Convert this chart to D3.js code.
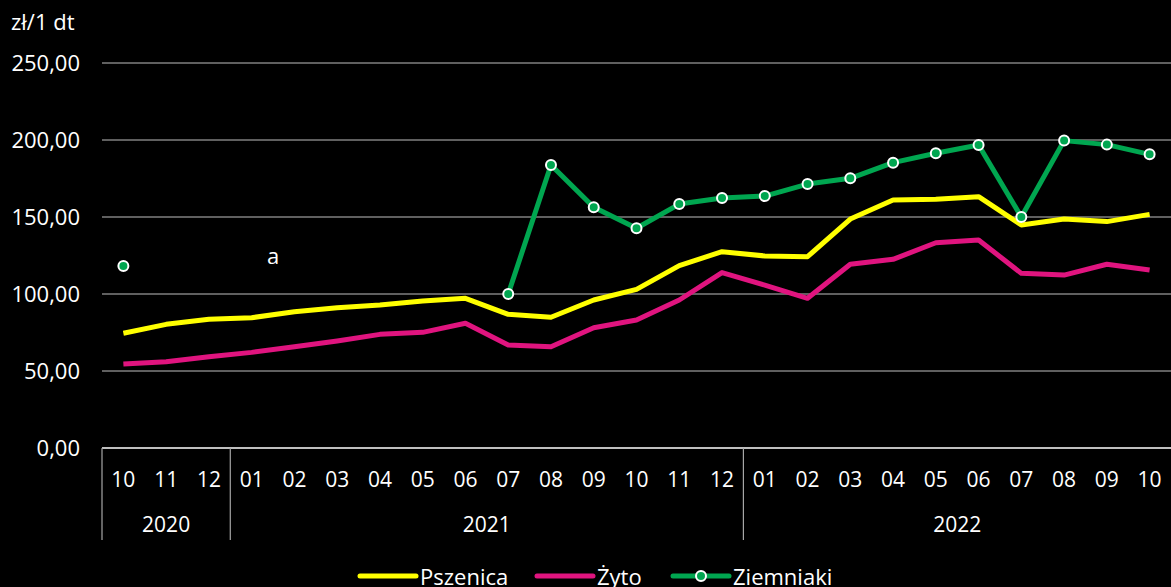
<!DOCTYPE html>
<html>
<head>
<meta charset="utf-8">
<script src="https://cdn.jsdelivr.net/npm/d3@7"></script>
<style>
  body { margin: 0; background: #000; }
  svg { display: block; }
  text { font-family: "Open Sans", sans-serif; fill: #fff; }
</style>
</head>
<body>
<svg width="1171" height="587"></svg>
<script>
var months = ["10","11","12","01","02","03","04","05","06","07","08","09","10","11","12","01","02","03","04","05","06","07","08","09","10"];
var years = [{label: "2020", n: 3}, {label: "2021", n: 12}, {label: "2022", n: 10}];
var pszenica = [74.5, 80.3, 83.6, 84.6, 88.5, 91.1, 92.9, 95.5, 97.2, 86.8, 84.9, 96.1, 103, 118.4, 127.5, 124.7, 124.2, 148.7, 161, 161.5, 163.2, 144.8, 148.7, 147, 151.7];
var zyto = [54.5, 56, 59.3, 62.1, 65.8, 69.5, 73.8, 75.1, 81, 66.9, 65.8, 78.1, 83.1, 96.1, 113.9, 105.8, 97.2, 119.3, 122.5, 133.3, 135.1, 113.4, 112.3, 119.3, 115.6];
var ziemniaki = [118.2, null, null, null, null, null, null, null, null, 100, 183.8, 156.3, 142.7, 158.4, 162.3, 163.6, 171.4, 175.1, 185.3, 191.4, 196.8, 150, 199.6, 197, 190.7];
var yTicks = [0, 50, 100, 150, 200, 250];

var svg = d3.select("svg");
var plotL = 102, plotR = 1171, plotT = 63, plotB = 448;

var x = d3.scaleBand().domain(d3.range(months.length)).range([plotL, plotR]);
var y = d3.scaleLinear().domain([0, 250]).range([plotB, plotT]);
var fmt = function(v){ return v.toFixed(2).replace(".", ","); };
var cx = function(i){ return x(i) + x.bandwidth() / 2; };

// grid
svg.append("g").selectAll("line").data(yTicks.filter(function(d){ return d > 0; })).enter().append("line")
  .attr("x1", plotL).attr("x2", plotR)
  .attr("y1", function(d){ return y(d); }).attr("y2", function(d){ return y(d); })
  .attr("stroke", "#bfbfbf").attr("stroke-width", 1);

svg.append("g").selectAll("text").data(yTicks).enter().append("text")
  .attr("x", 80).attr("y", function(d){ return y(d) + 8; })
  .attr("text-anchor", "end").attr("font-size", 22)
  .text(fmt);

svg.append("text").attr("x", 11).attr("y", 30).attr("font-size", 22).text("zł/1 dt");

// x axis
svg.append("line").attr("x1", plotL).attr("x2", plotR).attr("y1", plotB).attr("y2", plotB)
  .attr("stroke", "#fff").attr("stroke-width", 1.5);

svg.append("g").selectAll("text").data(months).enter().append("text")
  .attr("x", function(d, i){ return cx(i); })
  .attr("y", 487).attr("text-anchor", "middle").attr("font-size", 21)
  .text(function(d){ return d; });

var start = 0, seps = [];
years.forEach(function(yr){ yr.start = start; seps.push(start); start += yr.n; });
svg.append("g").selectAll("line").data(seps).enter().append("line")
  .attr("x1", function(d){ return x(d); })
  .attr("x2", function(d){ return x(d); })
  .attr("y1", plotB).attr("y2", 540)
  .attr("stroke", "#a6a6a6").attr("stroke-width", 1.2);

svg.append("g").selectAll("text").data(years).enter().append("text")
  .attr("x", function(d){ return (x(d.start) + (d.start + d.n < months.length ? x(d.start + d.n) : plotR)) / 2; })
  .attr("y", 532).attr("text-anchor", "middle").attr("font-size", 21)
  .text(function(d){ return d.label; });

svg.append("text").attr("x", 273).attr("y", 264).attr("text-anchor", "middle").attr("font-size", 22).text("a");

// lines
var line = d3.line()
  .defined(function(d){ return d != null; })
  .x(function(d, i){ return cx(i); })
  .y(function(d){ return y(d); });

var series = [
  {name: "Pszenica", data: pszenica, color: "#ffff00", marker: false},
  {name: "Żyto", data: zyto, color: "#e0147f", marker: false},
  {name: "Ziemniaki", data: ziemniaki, color: "#00a650", marker: true}
];

series.forEach(function(s){
  svg.append("path").datum(s.data)
    .attr("d", line)
    .attr("fill", "none")
    .attr("stroke", s.color)
    .attr("stroke-width", 5)
    .attr("stroke-linejoin", "round");
  if (s.marker) {
    svg.append("g").selectAll("circle")
      .data(s.data.map(function(v, i){ return {v: v, i: i}; }).filter(function(d){ return d.v != null; }))
      .enter().append("circle")
      .attr("cx", function(d){ return cx(d.i); })
      .attr("cy", function(d){ return y(d.v); })
      .attr("r", 5)
      .attr("fill", s.color)
      .attr("stroke", "#fff")
      .attr("stroke-width", 2);
  }
});

// legend
var legendX = [360, 537, 673];
var leg = svg.append("g").selectAll("g").data(series).enter().append("g")
  .attr("transform", function(d, i){ return "translate(" + legendX[i] + ",576)"; });
leg.append("line").attr("x1", 0).attr("x2", 56).attr("y1", 0).attr("y2", 0)
  .attr("stroke", function(d){ return d.color; }).attr("stroke-width", 5).attr("stroke-linecap", "round");
leg.filter(function(d){ return d.marker; }).append("circle")
  .attr("cx", 28).attr("cy", 0).attr("r", 5)
  .attr("fill", function(d){ return d.color; }).attr("stroke", "#fff").attr("stroke-width", 2);
leg.append("text").attr("x", 60).attr("y", 9).attr("font-size", 22)
  .text(function(d){ return d.name; });
</script>
</body>
</html>
